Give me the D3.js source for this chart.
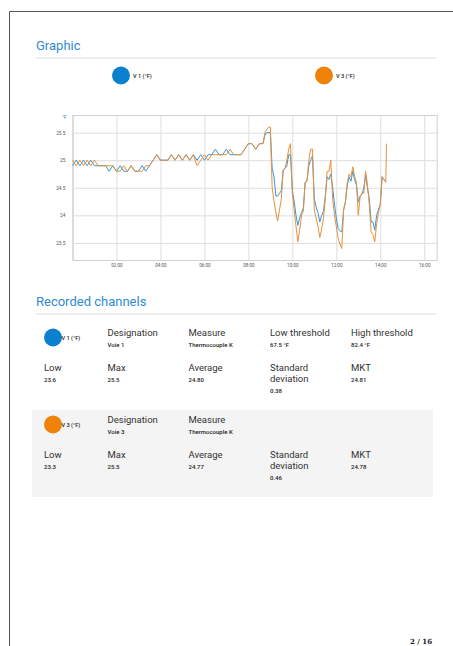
<!DOCTYPE html>
<html>
<head>
<meta charset="utf-8">
<script src="https://cdn.jsdelivr.net/npm/d3@7"></script>
<style>
  html, body { margin: 0; padding: 0; background: #fff; }
  svg { display: block; font-family: Roboto, "Open Sans", sans-serif; }
</style>
</head>
<body>
<div id="page"></div>
<script>
// sample times (HH:MM) and readings for both channels
var times = [
  "00:00","00:10","00:20","00:30","00:40","00:50","01:00","01:10","01:20","01:30",
  "01:40","01:50","02:00","02:10","02:20","02:30","02:40","02:50","03:00","03:10",
  "03:20","03:30","03:40","03:50","04:00","04:10","04:20","04:30","04:40","04:50",
  "05:00","05:10","05:20","05:30","05:40","05:50","06:00","06:10","06:20","06:30",
  "06:40","06:50","07:00","07:10","07:20","07:30","07:40","07:50","08:00","08:10",
  "08:20","08:30","08:40","08:45","08:50","08:55","09:00","09:05","09:10","09:15",
  "09:20","09:25","09:30","09:35","09:40","09:45","09:50","09:55","10:00","10:05",
  "10:10","10:15","10:20","10:25","10:30","10:35","10:40","10:45","10:50","10:55",
  "11:00","11:05","11:10","11:15","11:20","11:25","11:30","11:35","11:40","11:45",
  "11:50","11:55","12:00","12:05","12:10","12:15","12:20","12:25","12:30","12:35",
  "12:40","12:45","12:50","12:55","13:00","13:05","13:10","13:15","13:20","13:25",
  "13:30","13:35","13:40","13:45","13:50","13:55","14:00","14:05","14:10","14:15",
  "14:17"
];

var v1Values = [
  24.9,25.0,24.9,25.0,24.9,25.0,24.9,24.9,24.9,24.9,
  24.8,24.9,24.8,24.9,24.8,24.8,24.9,24.8,24.8,24.9,
  24.8,24.9,25.0,25.1,25.0,25.0,25.0,25.1,25.0,25.1,
  25.0,25.1,25.0,25.1,25.0,25.1,25.0,25.1,25.1,25.2,
  25.1,25.1,25.2,25.1,25.1,25.1,25.1,25.2,25.3,25.3,
  25.2,25.3,25.3,25.45,25.5,25.5,25.5,24.85,24.7,24.35,
  24.35,24.4,24.45,24.82,24.85,24.9,25.1,25.1,24.45,24.25,
  24.0,23.82,23.95,24.05,24.13,24.6,24.62,24.9,25.0,25.08,
  24.3,24.15,24.05,23.88,24.0,24.07,24.35,24.7,24.65,24.75,
  24.5,24.2,23.95,23.76,23.72,23.7,24.1,24.25,24.55,24.7,
  24.62,24.8,24.65,24.55,24.25,24.35,24.38,24.5,24.73,24.5,
  24.3,23.88,23.88,23.73,24.0,24.1,24.2,24.7,24.65,24.61,
  null
];

var v3Values = [
  25.0,24.9,25.0,24.9,25.0,24.9,25.0,24.9,24.9,24.9,
  24.9,24.9,24.8,24.8,24.9,24.8,24.9,24.8,24.8,24.8,
  24.9,24.9,25.0,25.1,25.0,25.0,25.0,25.1,25.0,25.1,
  25.0,25.1,25.0,25.1,24.9,25.0,25.1,25.0,25.1,25.1,
  25.1,25.1,25.1,25.2,25.1,25.1,25.1,25.2,25.3,25.3,
  25.2,25.3,25.3,25.5,25.55,25.6,25.6,24.5,24.25,24.05,
  23.9,24.1,24.3,24.82,24.85,25.0,25.2,25.3,24.4,24.1,
  23.8,23.52,23.73,24.0,24.07,24.6,24.62,25.0,25.2,25.2,
  24.1,23.95,23.8,23.6,23.75,23.95,24.3,24.8,24.8,25.0,
  24.3,24.0,23.8,23.58,23.48,23.4,24.1,24.25,24.6,24.75,
  24.7,24.88,24.7,24.6,24.0,24.34,24.4,24.4,24.8,24.55,
  24.2,23.7,23.65,23.52,23.85,24.05,24.2,24.7,24.65,24.6,
  25.3
];

var seriesNames = ["V 1 (°F)", "V 3 (°F)"];
var seriesColors = ["#0a80cf", "#ef8209"];
var lineColors = ["#3596d6", "#e9903a"];
var yTicks = [23.5, 24, 24.5, 25, 25.5];
var xTickLabels = ["02:00","04:00","06:00","08:00","10:00","12:00","14:00","16:00"];

var channel1Head = [["Designation","Voie 1"],["Measure","Thermocouple K"],["Low threshold","67.5 °F"],["High threshold","82.4 °F"]];
var channel1Stats = [["Low","23.6"],["Max","25.5"],["Average","24.80"],["Standard|deviation","0.38"],["MKT","24.81"]];
var channel2Head = [["Designation","Voie 3"],["Measure","Thermocouple K"]];
var channel2Stats = [["Low","23.3"],["Max","25.5"],["Average","24.77"],["Standard|deviation","0.46"],["MKT","24.78"]];

function drawPage() {
    var W = 453, H = 646;
    var titleBlue = "#2f8bd0";

    var svg = d3.select("#page").append("svg")
        .attr("width", W)
        .attr("height", H);

    // page frame
    svg.append("path")
        .attr("d", "M9.5," + H + " V11.5 H" + W)
        .attr("fill", "none")
        .attr("stroke", "#555")
        .attr("stroke-width", 1);

    // section headers
    function sectionTitle(label, y) {
        svg.append("text")
            .attr("x", 36)
            .attr("y", y)
            .attr("fill", titleBlue)
            .style("font-size", "13px")
            .text(label);
        svg.append("line")
            .attr("x1", 36).attr("x2", 436)
            .attr("y1", y + 8).attr("y2", y + 8)
            .attr("stroke", "#dcdcdc")
            .attr("stroke-width", 1.2);
    }
    sectionTitle("Graphic", 50);
    sectionTitle("Recorded channels", 306);

    // legend
    var legendX = [121, 324];
    seriesNames.forEach(function(name, i) {
        svg.append("circle")
            .attr("cx", legendX[i]).attr("cy", 75.5)
            .attr("r", 9)
            .attr("fill", seriesColors[i]);
        svg.append("text")
            .attr("x", legendX[i] + 12).attr("y", 77.5)
            .attr("fill", "#222")
            .style("font-size", "5.6px")
            .style("font-weight", "500")
            .text(name);
    });

    // chart area
    var plotLeft = 72.5, plotRight = 436.7, plotTop = 115, plotBottom = 260;
    var parseTime = d3.timeParse("%H:%M");

    var x = d3.scaleTime()
        .domain([parseTime("00:00"), new Date(parseTime("16:00").getTime() + 34 * 60000)])
        .range([plotLeft, plotRight]);
    var y = d3.scaleLinear()
        .domain([23.19, 25.82])
        .range([plotBottom, plotTop]);

    var gx = svg.append("g")
        .attr("transform", "translate(0," + plotBottom + ")")
        .call(d3.axisBottom(x)
            .tickValues(xTickLabels.map(parseTime))
            .tickSize(-(plotBottom - plotTop))
            .tickPadding(4)
            .tickFormat(d3.timeFormat("%H:%M")));
    gx.select(".domain").attr("stroke", "#d0d0d0");
    gx.selectAll(".tick line").attr("stroke", "#dedede");
    gx.selectAll(".tick text").attr("fill", "#555").style("font-size", "4.6px").style("font-family", "Roboto");

    var gy = svg.append("g")
        .attr("transform", "translate(" + plotLeft + ",0)")
        .call(d3.axisLeft(y)
            .tickValues(yTicks)
            .tickSize(-(plotRight - plotLeft))
            .tickPadding(7)
            .tickFormat(function(d) { return String(d); }));
    gy.select(".domain").attr("stroke", "#d0d0d0");
    gy.selectAll(".tick line").attr("stroke", "#dedede");
    gy.selectAll(".tick text").attr("fill", "#555").style("font-size", "4.8px").style("font-family", "Roboto");

    svg.append("text")
        .attr("x", 62).attr("y", 119)
        .attr("fill", titleBlue)
        .style("font-size", "5px")
        .text("°F");

    var lineData = [v1Values, v3Values].map(function(vals) {
        return times.map(function(t, i) { return { date: parseTime(t), value: vals[i] }; });
    });

    lineData.forEach(function(data, i) {
        svg.append("path")
            .datum(data)
            .attr("fill", "none")
            .attr("stroke", lineColors[i])
            .attr("stroke-width", 1)
            .attr("stroke-linejoin", "round")
            .attr("d", d3.line()
                .defined(function(d) { return d.value != null; })
                .x(function(d) { return x(d.date); })
                .y(function(d) { return y(d.value); }));
    });

    // channel blocks
    var colX = [107.5, 188.5, 270, 351];
    var statX = [44, 107.5, 188.5, 270, 351];

    function channelBlock(top0, color, name, head, stats) {
        svg.append("circle")
            .attr("cx", 53).attr("cy", top0 + 15)
            .attr("r", 9)
            .attr("fill", color);
        svg.append("text")
            .attr("x", 61.5).attr("y", top0 + 17)
            .attr("fill", "#222")
            .style("font-size", "5.6px")
            .style("font-weight", "500")
            .text(name);

        head.forEach(function(h, i) {
            svg.append("text")
                .attr("x", colX[i]).attr("y", top0 + 13)
                .attr("fill", "#333")
                .style("font-size", "9.5px")
                .text(h[0]);
            svg.append("text")
                .attr("x", colX[i]).attr("y", top0 + 24)
                .attr("fill", "#222")
                .style("font-size", "6px")
                .style("font-weight", "500")
                .text(h[1]);
        });

        stats.forEach(function(s, i) {
            var lines = s[0].split("|");
            lines.forEach(function(l, j) {
                svg.append("text")
                    .attr("x", statX[i]).attr("y", top0 + 48 + j * 11)
                    .attr("fill", "#333")
                    .style("font-size", "9.5px")
                    .text(l);
            });
            svg.append("text")
                .attr("x", statX[i]).attr("y", top0 + 59 + (lines.length - 1) * 11.5)
                .attr("fill", "#222")
                .style("font-size", "6px")
                .style("font-weight", "500")
                .text(s[1]);
        });
    }

    svg.append("rect")
        .attr("x", 32).attr("y", 410)
        .attr("width", 401).attr("height", 87)
        .attr("fill", "#f4f4f4");

    channelBlock(322.5, seriesColors[0], seriesNames[0], channel1Head, channel1Stats);
    channelBlock(409.5, seriesColors[1], seriesNames[1], channel2Head, channel2Stats);

    // page number
    svg.append("text")
        .attr("x", 432).attr("y", 644)
        .attr("text-anchor", "end")
        .attr("fill", "#222")
        .style("font-family", "'DejaVu Serif', serif")
        .style("font-size", "7px")
        .style("font-weight", "bold")
        .text("2 / 16");
}

drawPage();
</script>
</body>
</html>
